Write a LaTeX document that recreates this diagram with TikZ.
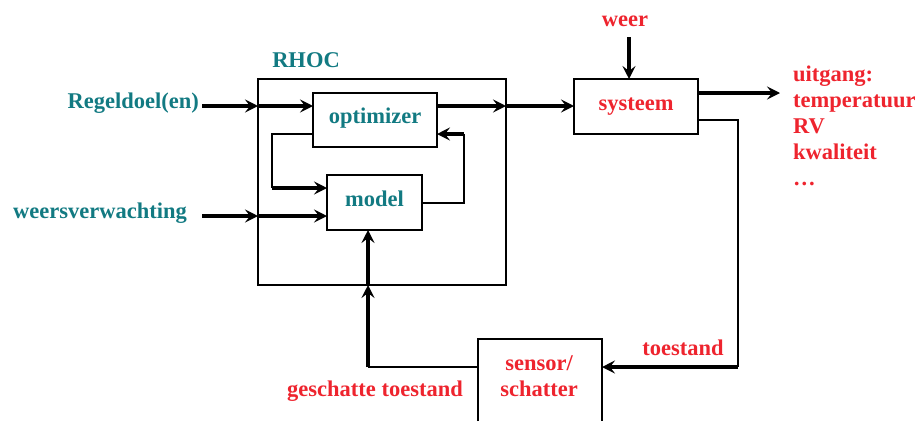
\documentclass[tikz,border=0pt]{standalone}
\usepackage{fontspec}
\setmainfont{Liberation Serif}
\usetikzlibrary{arrows.meta}
\definecolor{tealc}{RGB}{18,122,130}
\definecolor{redc}{RGB}{238,36,46}
\begin{document}
\begin{tikzpicture}[x=1pt,y=-1pt,
  every node/.style={font=\fontsize{22.5}{26}\selectfont\bfseries},
  blk/.style={draw,line width=1.5pt,inner sep=0pt,outer sep=0pt,text height=16pt,text depth=9pt},
  thn/.style={line width=1.5pt},
  thk/.style={line width=3.2pt,-{Stealth[length=13pt,width=13pt,inset=5pt]}},
  lbl/.style={inner sep=0pt}]
\useasboundingbox (0,0) rectangle (920,421);
% blocks
\node[blk,minimum width=248pt,minimum height=206pt] (rhoc) at (382,182) {};
\node[lbl,text=tealc,anchor=base] (rhocl) at (306,67) {RHOC};
\node[blk,text=tealc,minimum width=124pt,minimum height=54pt] (opt) at (375,120) {optimizer};
\node[blk,text=tealc,minimum width=95pt,minimum height=55pt] (model) at (374.5,202.5) {model};
\node[blk,text=redc,minimum width=124pt,minimum height=55pt] (sys) at (636,106.5) {systeem};
\node[inner sep=0pt,outer sep=0pt,minimum width=124pt,minimum height=82pt] (sensor) at (540,380) {};
\draw[thn] (sensor.south west) -- (sensor.north west) -- (sensor.north east) -- (sensor.south east);
\node[lbl,text=redc,align=center,anchor=base] (sensl) at (539,396) {sensor/\\schatter};
% labels
\node[lbl,text=tealc,anchor=base east] (reg) at (199,108) {Regeldoel(en)};
\node[lbl,text=tealc,anchor=base east] (wv) at (187,218) {weersverwachting};
\node[lbl,text=redc,anchor=base] (weer) at (625,26) {weer};
\node[lbl,text=redc,anchor=base west,align=left] (out) at (793,185) {uitgang:\\temperatuur\\RV\\kwaliteit\\\dots};
\node[lbl,text=redc,anchor=base] (toe) at (683,355) {toestand};
\node[lbl,text=redc,anchor=base] (gt) at (375,396) {geschatte toestand};
% coordinates
\coordinate (r0) at (202,106);
\coordinate (w0) at (202,216);
\coordinate (wr) at (629,37);
\coordinate (o1) at (780,93);
\coordinate (fa) at (272,134);
\coordinate (fb) at (272,188);
\coordinate (ma) at (464,203);
\coordinate (mb) at (464,134);
\coordinate (sa) at (738,120);
\coordinate (sb) at (738,367);
\coordinate (ga) at (368,367);
% connectors
\draw[thk] (r0) -- (rhoc.west |- r0);
\draw[thk] (rhoc.west |- r0) -- (opt.west |- r0);
\draw[thk] (w0) -- (rhoc.west |- w0);
\draw[thk] (rhoc.west |- w0) -- (model.west |- w0);
\draw[thk] (opt.east |- r0) -- (rhoc.east |- r0);
\draw[thk] (rhoc.east |- r0) -- (sys.west |- r0);
\draw[thk] (wr) -- (wr |- sys.north);
\draw[thk] (sys.east |- o1) -- (o1);
\draw[thn] (opt.west |- fa) -- (fa) -- (fb);
\draw[thk] (fb) -- (model.west |- fb);
\draw[thn] (model.east |- ma) -- (ma) -- (mb);
\draw[thk] (mb) -- (opt.east |- mb);
\draw[thn] (sys.east |- sa) -- (sa) -- (sb);
\draw[thk] (sb) -- (sensor.east |- sb);
\draw[thn] (sensor.west |- ga) -- (ga);
\draw[thk] (ga) -- (ga |- rhoc.south);
\draw[thk] (ga |- rhoc.south) -- (ga |- model.south);
\end{tikzpicture}
\end{document}
